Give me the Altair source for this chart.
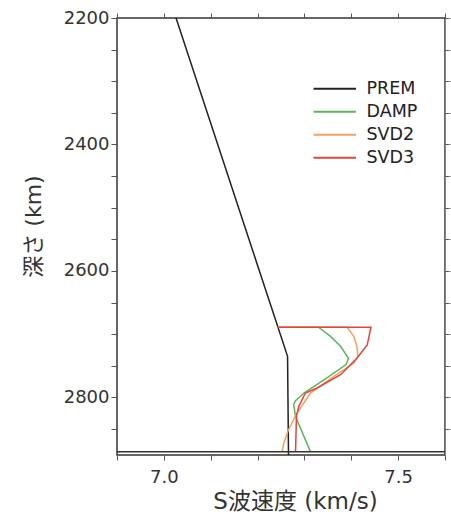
import altair as alt
import pandas as pd

FONT = "DejaVu Sans, Noto Sans CJK JP, sans-serif"

models = ["PREM", "DAMP", "SVD2", "SVD3"]
colors = ["#222222", "#5cb85c", "#f2a360", "#e8433a"]

prem_vs = [7.026, 7.264, 7.266]
prem_depth = [2200, 2735, 2891]

damp_vs = [7.243, 7.330, 7.355, 7.377, 7.394, 7.389, 7.348, 7.299, 7.281, 7.277, 7.281, 7.313]
damp_depth = [2689, 2689, 2703, 2719, 2738, 2748, 2769, 2793, 2805, 2811, 2830, 2886]

svd2_vs = [7.243, 7.391, 7.405, 7.412, 7.414, 7.405, 7.362, 7.313, 7.284, 7.266, 7.256, 7.252]
svd2_depth = [2689, 2689, 2703, 2719, 2735, 2746, 2767, 2793, 2825, 2851, 2872, 2886]

svd3_vs = [7.243, 7.442, 7.434, 7.412, 7.377, 7.327, 7.302, 7.288, 7.283, 7.281]
svd3_depth = [2689, 2689, 2717, 2738, 2764, 2785, 2793, 2814, 2830, 2886]

cmb_depth = [2886]

x_ticks = [6.9, 7.0, 7.1, 7.2, 7.3, 7.4, 7.5, 7.6]
y_ticks = list(range(2200, 2901, 50))

rows = []
for name, vs, dp in [("PREM", prem_vs, prem_depth), ("DAMP", damp_vs, damp_depth),
                     ("SVD2", svd2_vs, svd2_depth), ("SVD3", svd3_vs, svd3_depth)]:
    for i, (v, d) in enumerate(zip(vs, dp)):
        rows.append({"model": name, "vs": v, "depth": d, "idx": i})
df = pd.DataFrame(rows)
cmb = pd.DataFrame({"depth": cmb_depth})

xscale = alt.Scale(domain=[6.9, 7.6], nice=False, zero=False)
yscale = alt.Scale(domain=[2200, 2891], reverse=True, nice=False, zero=False)

lines = alt.Chart(df).mark_line(strokeWidth=1.5, clip=True).encode(
    x=alt.X("vs:Q", scale=xscale, axis=alt.Axis(
        title="S波速度 (km/s)", values=x_ticks,
        labelExpr="(abs(datum.value-7.0)<0.001 || abs(datum.value-7.5)<0.001) ? format(datum.value, '.1f') : ''",
        tickSize=5, labelFontSize=18, labelPadding=8, titleFontSize=23,
        titleX=178, titleY=46, titleBaseline="middle", grid=False,
        domain=False, tickColor="#555", labelColor="#333", titleColor="#333",
        titleFontWeight="normal", labelFont=FONT, titleFont=FONT)),
    y=alt.Y("depth:Q", scale=yscale, axis=alt.Axis(
        title="深さ (km)", values=y_ticks,
        labelExpr="datum.value % 200 == 0 ? datum.value : ''",
        tickSize=6, labelFontSize=18, labelPadding=2, titleFontSize=22,
        titleX=-84, titleY=208, titleBaseline="middle", grid=False,
        domain=False, tickColor="#555", labelColor="#333", titleColor="#333",
        titleFontWeight="normal", labelFont=FONT, titleFont=FONT)),
    color=alt.Color("model:N", scale=alt.Scale(domain=models, range=colors),
                    sort=models,
                    legend=alt.Legend(title=None, orient="none", legendX=209, legendY=62,
                                      symbolType="M-3,0H3", symbolSize=200,
                                      symbolStrokeWidth=2, labelOffset=23,
                                      labelFontSize=17.5, labelFont=FONT, labelColor="#222",
                                      rowPadding=4, padding=0)),
    order=alt.Order("idx:Q"),
)

frame_axes = alt.Chart(df).mark_point(opacity=0).encode(
    x=alt.X("vs:Q", scale=xscale, axis=alt.Axis(
        orient="top", title=None, values=x_ticks, labels=False, tickSize=5,
        grid=False, domain=False, tickColor="#555")),
    y=alt.Y("depth:Q", scale=yscale, axis=alt.Axis(
        orient="right", title=None, values=y_ticks, labels=False, tickSize=3,
        grid=False, domain=False, tickColor="#555")),
)

cmb_line = alt.Chart(cmb).mark_rule(color="#333333", strokeWidth=1.5).encode(
    y=alt.Y("depth:Q", scale=yscale),
)

chart = alt.layer(lines, cmb_line, frame_axes).resolve_axis(
    x="independent", y="independent"
).properties(
    width=328, height=437,
    autosize=alt.AutoSizeParams(type="none"),
    padding={"left": 117, "top": 18, "right": 6, "bottom": 57},
    background="white",
).configure_view(stroke="#333333", strokeWidth=1.5)

chart.save("out.html", embed_options={"renderer": "svg", "actions": False})
